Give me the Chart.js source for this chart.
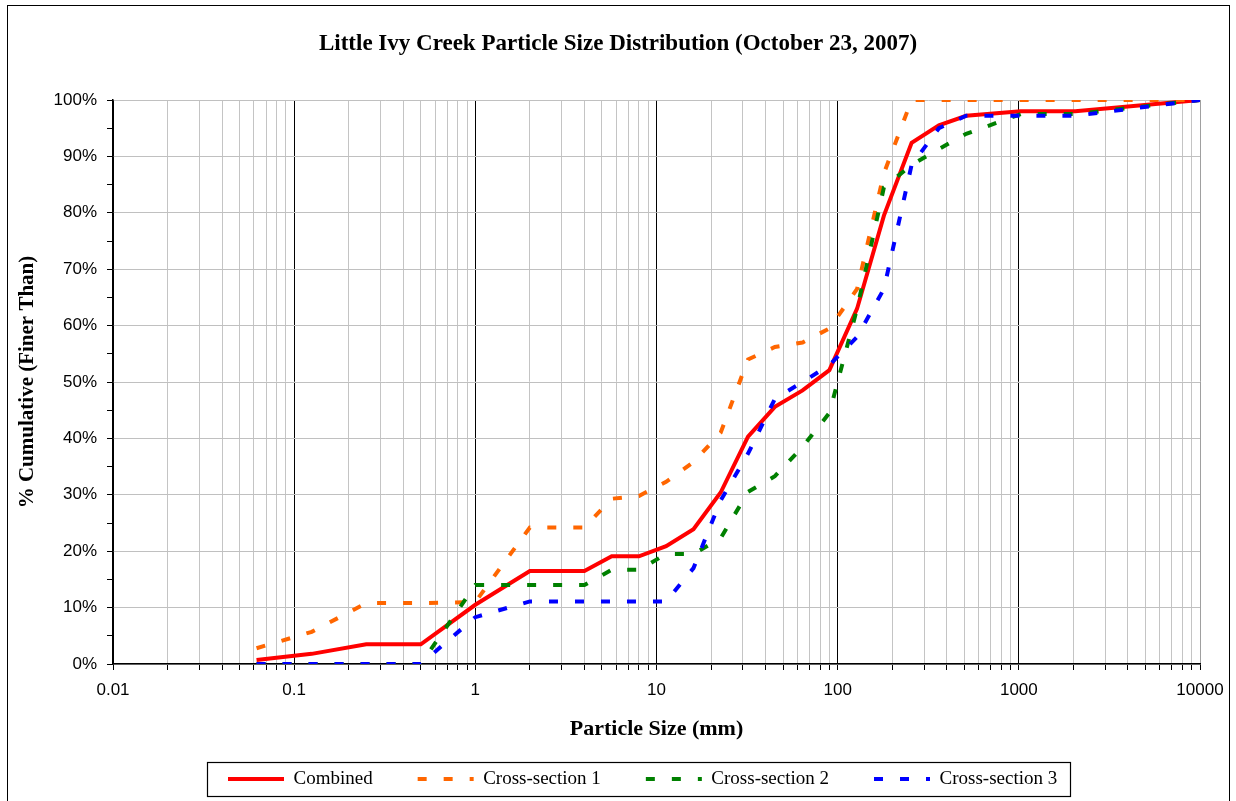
<!DOCTYPE html>
<html>
<head>
<meta charset="utf-8">
<script src="https://cdn.jsdelivr.net/npm/chart.js@4/dist/chart.umd.min.js"></script>
<style>
  html, body { margin: 0; padding: 0; background: #ffffff; }
  #wrap { width: 1236px; height: 801px; position: relative; }
  canvas { display: block; }
</style>
</head>
<body>
<div id="wrap"><canvas id="c" width="1236" height="801"></canvas></div>
<script>
// ---- data ----
const sizesMm = [0.062, 0.125, 0.25, 0.5, 1, 2, 4, 5.66, 8, 11.3, 16, 22.6, 32, 45, 64, 90, 128, 180, 256, 362, 512, 1024, 2048, 10000];
const combined = [0.7, 1.8, 3.5, 3.5, 10.5, 16.5, 16.5, 19.1, 19.1, 20.9, 23.9, 30.4, 40.3, 45.6, 48.5, 52.1, 63, 79.5, 92.4, 95.5, 97.2, 98, 98, 100];
const crossSection1 = [2.8, 5.7, 10.8, 10.8, 11, 24.2, 24.2, 29.3, 29.8, 32.3, 35.8, 41, 54, 56.2, 57, 59.5, 66.5, 87, 100, 100, 100, 100, 100, 100];
const crossSection2 = [0, 0, 0, 0, 14, 14, 14, 16.7, 16.7, 19.5, 19.5, 22.3, 30.5, 33.3, 38.5, 44.5, 63, 84.5, 88.5, 91.3, 94, 97.5, 97.5, 100];
const crossSection3 = [0, 0, 0, 0, 8.3, 11.1, 11.1, 11.1, 11.1, 11.1, 17, 29, 37.3, 47, 50, 53, 58, 66.5, 88.5, 95, 97.2, 97.2, 97.2, 100];
const seriesNames = ['Combined', 'Cross-section 1', 'Cross-section 2', 'Cross-section 3'];
const xTickValues = [0.01, 0.1, 1, 10, 100, 1000, 10000];
const xTickLabels = ['0.01', '0.1', '1', '10', '100', '1000', '10000'];
const yTickLabelStep = 10;
const titleText = 'Little Ivy Creek Particle Size Distribution (October 23, 2007)';
const xTitle = 'Particle Size (mm)';
const yTitle = '% Cumulative (Finer Than)';

// ---- helpers ----
const toPts = (vals) => sizesMm.map((s, i) => ({ x: s, y: vals[i] }));
const isDecade = (v) => Math.abs(Math.log10(v) - Math.round(Math.log10(v))) < 1e-9;
const gridValues = [];
for (let d = 0; d < xTickValues.length - 1; d++) {
  for (let k = 1; k <= 9; k++) gridValues.push(+(k * xTickValues[d]).toPrecision(6));
}
gridValues.push(xTickValues[xTickValues.length - 1]);

const serif = 'Liberation Serif, Times New Roman, serif';
const sans = 'Liberation Sans, Arial, sans-serif';
const DASH = [9, 17];

const decor = {
  id: 'decor',
  afterLayout(chart) {
    const tb = chart.titleBlock;
    if (tb) {
      const dxT = chart.width / 2 - (tb.left + tb.right) / 2;
      tb.left += dxT; tb.right += dxT;
    }
    const lg = chart.legend;
    if (!lg || !lg.lineWidths) return;
    const p = lg.options.labels.padding;
    const cur = (lg.left + p + lg.right - lg.lineWidths[0]) / 2;
    const dx = 228 - cur;
    lg.left += dx; lg.right += dx;
    const fs = lg.options.labels.font.size;
    const curCy = lg.top + p + fs / 2;
    const dy = 779 - curCy;
    lg.top += dy; lg.bottom += dy;
  },
  beforeDraw(chart) {
    const ctx = chart.ctx;
    ctx.save();
    ctx.fillStyle = '#ffffff';
    ctx.fillRect(0, 0, chart.width, chart.height);
    ctx.restore();
  },
  afterDraw(chart) {
    const ctx = chart.ctx;
    ctx.save();
    ctx.strokeStyle = '#000000';
    ctx.lineWidth = 1;
    ctx.strokeRect(7.5, 5.5, 1222, 810);
    const lg = chart.legend;
    if (lg && lg.lineWidths) {
      const p = lg.options.labels.padding;
      const start = (lg.left + p + lg.right - lg.lineWidths[0]) / 2;
      const end = start + lg.lineWidths[0] - p;
      const cy = lg.top + p + lg.options.labels.font.size / 2;
      ctx.lineWidth = 1.2;
      ctx.strokeRect(Math.round(start - 21) + 0.5, Math.round(cy - 17) + 0.5, Math.round(end - start + 34), 34);
    }
    ctx.restore();
  }
};

const mk = (label, vals, color, dash, order) => ({
  label,
  data: toPts(vals),
  borderColor: color,
  backgroundColor: color,
  borderWidth: 4,
  borderDash: dash,
  pointRadius: 0,
  pointHoverRadius: 0,
  tension: 0,
  fill: false,
  order
});

new Chart(document.getElementById('c'), {
  type: 'line',
  data: {
    datasets: [
      mk(seriesNames[0], combined, '#ff0000', [], 4),
      mk(seriesNames[1], crossSection1, '#ff6600', DASH, 3),
      mk(seriesNames[2], crossSection2, '#008000', DASH, 2),
      mk(seriesNames[3], crossSection3, '#0000ff', DASH, 1)
    ]
  },
  options: {
    responsive: false,
    animation: false,
    devicePixelRatio: 1,
    layout: { padding: { left: 0, right: 36, top: 0, bottom: -11 } },
    plugins: {
      tooltip: { enabled: false },
      title: {
        display: true,
        text: titleText,
        color: '#000',
        font: { family: serif, size: 23, weight: 'bold' },
        padding: { top: 30, bottom: 42.4 }
      },
      legend: {
        display: true,
        position: 'bottom',
        labels: {
          usePointStyle: true,
          pointStyle: 'line',
          pointStyleWidth: 56,
          padding: 45,
          color: '#000',
          font: { family: serif, size: 19 },
          sort: (a, b) => a.datasetIndex - b.datasetIndex,
          generateLabels: (chart) => {
            const items = Chart.defaults.plugins.legend.labels.generateLabels(chart);
            items.forEach((it) => {
              const ds = chart.data.datasets[it.datasetIndex];
              it.lineDash = ds.borderDash;
              it.lineWidth = ds.borderWidth;
              it.strokeStyle = ds.borderColor;
              it.fillStyle = ds.borderColor;
              it.lineCap = 'butt';
              it.pointStyle = 'line';
            });
            return items;
          }
        }
      }
    },
    scales: {
      x: {
        type: 'logarithmic',
        min: 0.01,
        max: 10000,
        afterBuildTicks: (scale) => { scale.ticks = gridValues.map(v => ({ value: v, major: isDecade(v) })); },
        afterFit: (scale) => { scale.height = 74; },
        ticks: {
          autoSkip: false,
          maxRotation: 0,
          minRotation: 0,
          padding: 10,
          color: '#000',
          font: { family: sans, size: 17 },
          callback: (v) => {
            const i = xTickValues.findIndex(t => Math.abs(Math.log10(t) - Math.log10(v)) < 1e-9);
            return i >= 0 ? xTickLabels[i] : '';
          }
        },
        grid: {
          color: (c) => {
            const v = c.tick && c.tick.value;
            if (v === undefined) return '#c0c0c0';
            if (v >= 10000) return '#a0a0a0';
            return isDecade(v) ? '#000000' : '#c4c4c4';
          },
          lineWidth: 1,
          tickLength: 6,
          tickColor: '#000'
        },
        border: { color: '#000', width: 1.5 },
        title: {
          display: true,
          text: xTitle,
          color: '#000',
          font: { family: serif, size: 22, weight: 'bold', lineHeight: '18px' },
          padding: { top: 0, bottom: 0 }
        }
      },
      y: {
        min: 0,
        max: 100,
        afterFit: (scale) => { scale.width = 113; },
        ticks: {
          stepSize: 5,
          padding: 10,
          color: '#000',
          font: { family: sans, size: 17 },
          callback: (v) => (v % yTickLabelStep === 0 ? v + '%' : '')
        },
        grid: {
          color: (c) => (c.tick && c.tick.value % 10 === 0 ? '#c0c0c0' : 'rgba(0,0,0,0)'),
          lineWidth: 1,
          tickLength: 6,
          tickColor: '#000'
        },
        border: { color: '#000', width: 1.5 },
        title: {
          display: true,
          text: yTitle,
          color: '#000',
          font: { family: serif, size: 21, weight: 'bold' },
          padding: { top: 15.4, bottom: 0 }
        }
      }
    }
  },
  plugins: [decor]
});
</script>
</body>
</html>
